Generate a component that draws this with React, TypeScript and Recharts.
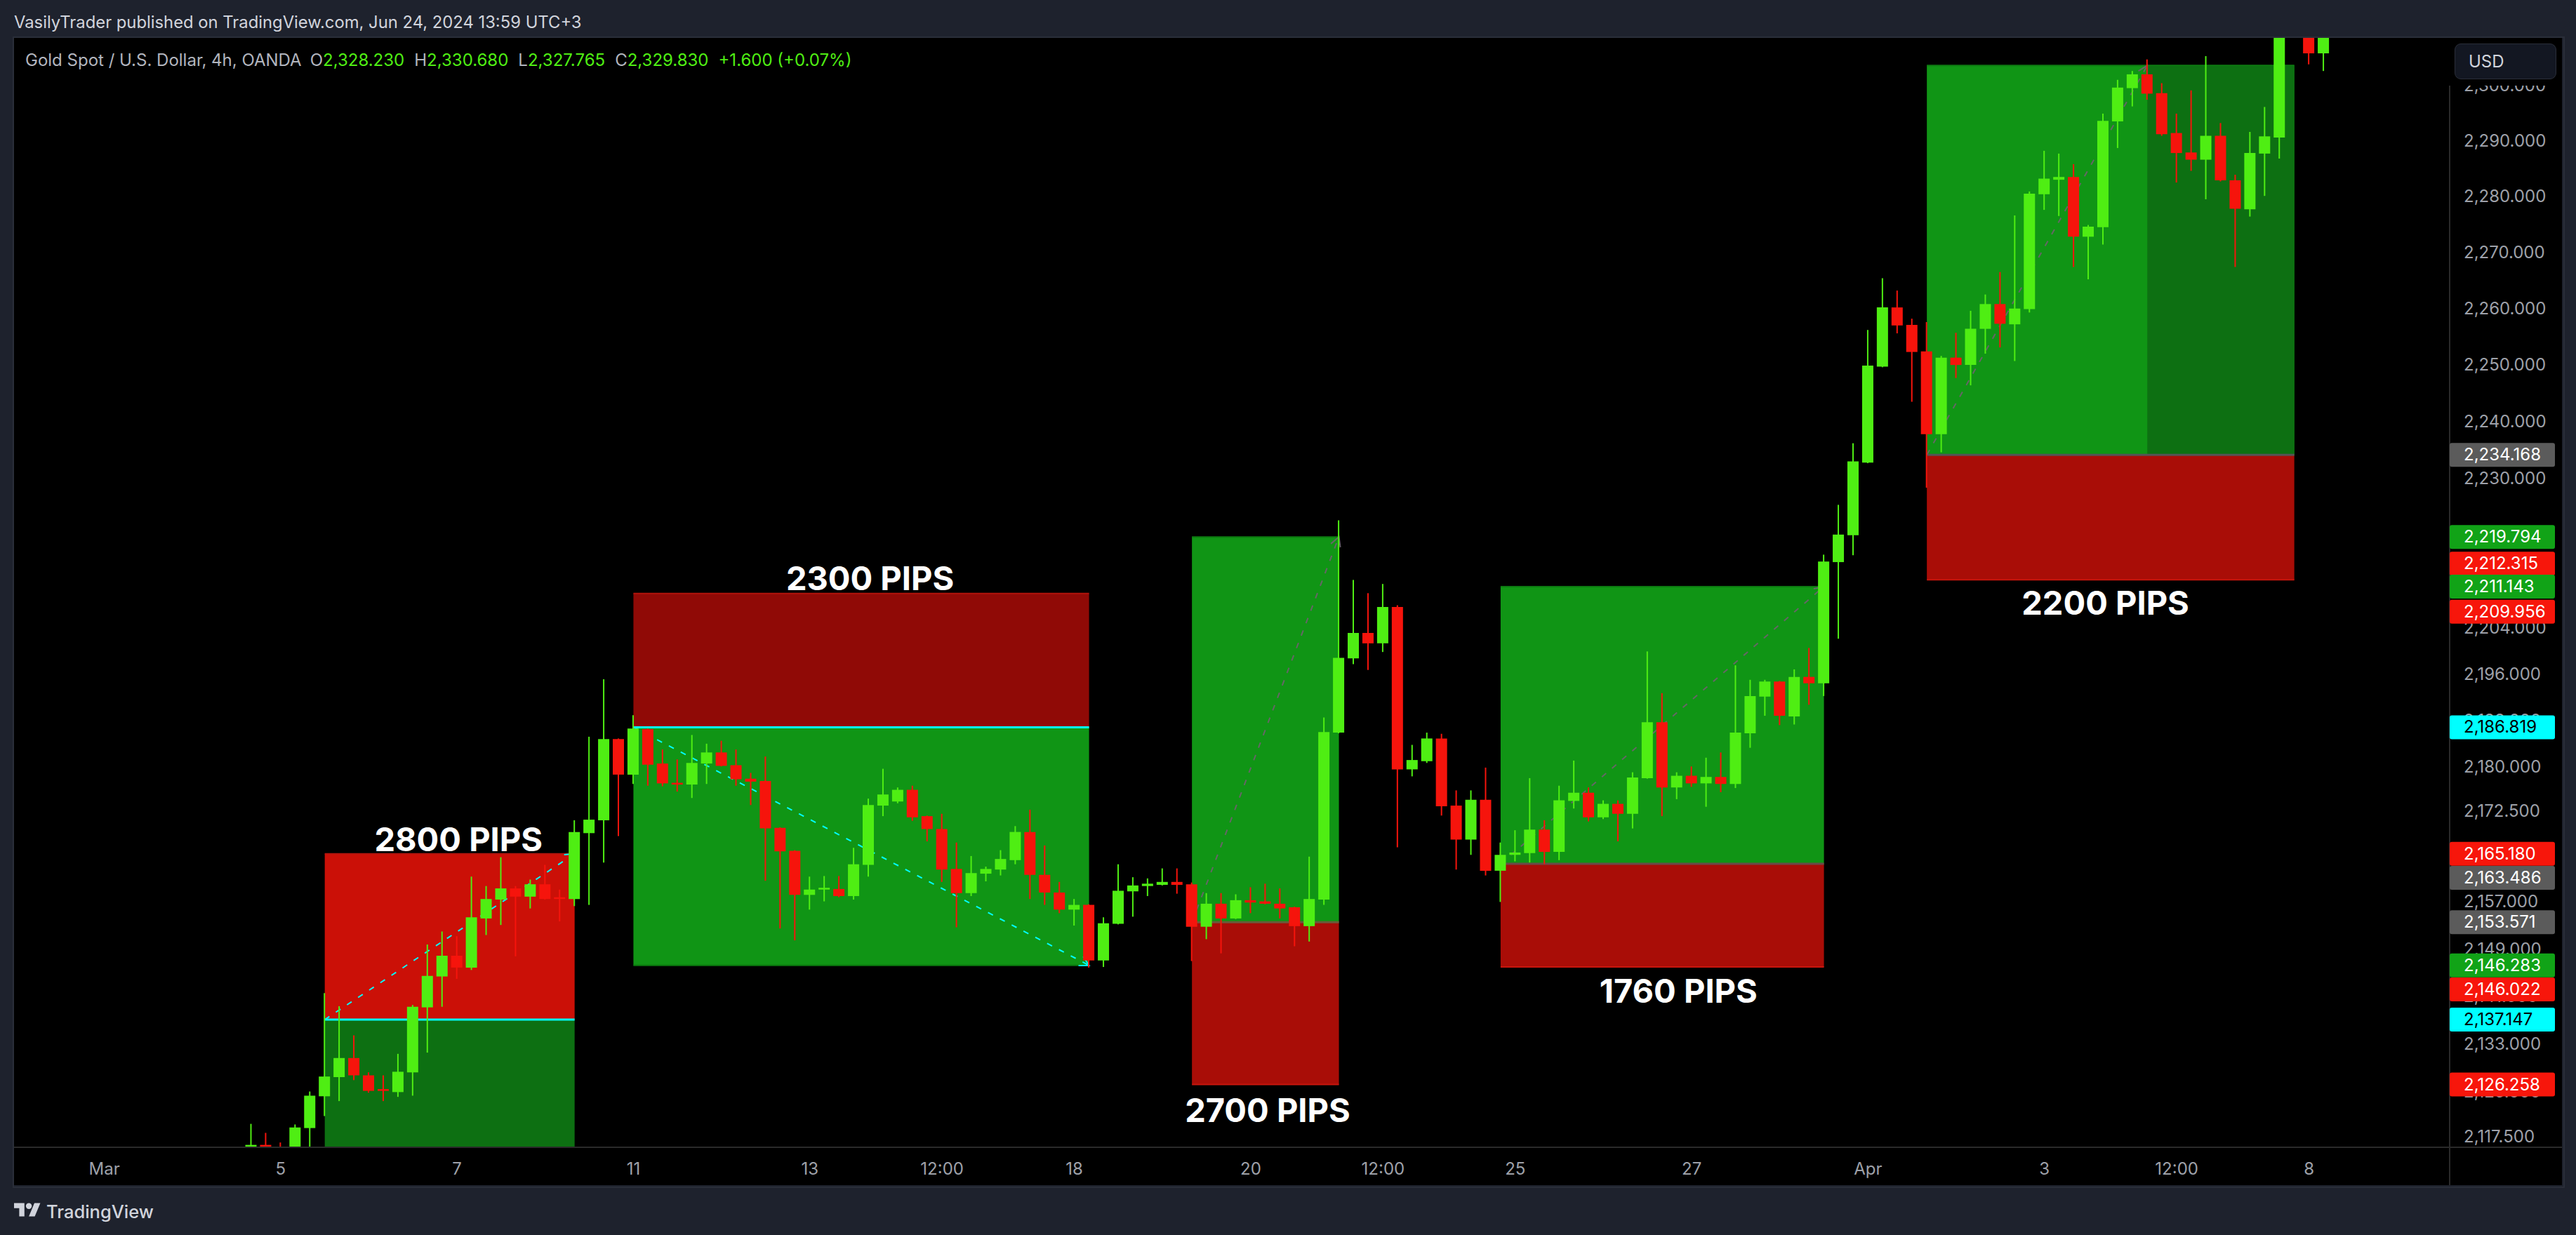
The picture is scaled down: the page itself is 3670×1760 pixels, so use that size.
import {
  Bar,
  Cell,
  ComposedChart,
  ReferenceArea,
  ReferenceDot,
  ReferenceLine,
  XAxis,
  YAxis,
} from "recharts";

const FONT = "Inter, 'Noto Sans', sans-serif";
const UP = "#4fee13";
const DOWN = "#f6140c";

const openPrices = [
  2114, 2116.2, 2115, 2114, 2119, 2124.3, 2127.5, 2130.7, 2127.8, 2125.5,
  2125, 2128.3, 2139.2, 2144.4, 2147.9, 2145.9, 2154.2, 2157.4, 2159.3, 2157.9,
  2160, 2157.8, 2157.5, 2168.7, 2170.9, 2184.8, 2178.7, 2186.5, 2180.6, 2177.3,
  2177, 2180.6, 2182.5, 2180.3, 2178, 2177.6, 2169.6, 2165.7, 2158.2, 2159.1,
  2159.2, 2158, 2163.3, 2173.4, 2174.1, 2176.1, 2171.6, 2169.4, 2162.6, 2158.5,
  2161.8, 2162.5, 2164.1, 2168.9, 2161.6, 2158.6, 2155.7, 2156.5, 2147.1, 2153.3,
  2158.8, 2159.7, 2159.9, 2160.4, 2160, 2152.8, 2156.7, 2154.2, 2157.3, 2157.1,
  2156.7, 2156.1, 2152.9, 2157.4, 2185.9, 2198.7, 2203.1, 2201.3, 2207.6, 2179.6,
  2181, 2184.9, 2173.4, 2167.6, 2174.4, 2162.3, 2165, 2165.3, 2169.3, 2165.5,
  2174.2, 2175.6, 2171.4, 2173.7, 2172, 2178.1, 2187.7, 2176.5, 2178.5, 2177.2,
  2178.3, 2177.1, 2185.8, 2192.1, 2194.7, 2188.7, 2195.5, 2194.4, 2215.4, 2220.1,
  2232.8, 2249.7, 2260.2, 2257.1, 2252.4, 2237.8, 2251.3, 2250, 2256.4, 2260.8,
  2257.2, 2259.9, 2280.4, 2283, 2283.5, 2272.8, 2274.5, 2293.5, 2299.5, 2302,
  2298.6, 2291.4, 2287.9, 2286.6, 2290.9, 2282.9, 2277.7, 2287.7, 2290.6, 2310,
  2315, 2305.8,
];
const highPrices = [
  2119.7, 2118.2, 2116.6, 2119.6, 2125.1, 2141.6, 2139.4, 2134.5, 2128.3, 2127.8,
  2131.4, 2139.6, 2149.8, 2152, 2151.2, 2161.3, 2159.7, 2164.6, 2159.7, 2160.8,
  2163.3, 2159.1, 2170.9, 2185.2, 2195.1, 2184.9, 2188.9, 2186.6, 2183, 2181.3,
  2185.5, 2184, 2184.5, 2183, 2179, 2181.8, 2169.7, 2165.8, 2161.3, 2161.4,
  2161.4, 2166.2, 2174.6, 2179.7, 2176.5, 2176.8, 2171.7, 2172, 2167.1, 2164.8,
  2163, 2165.8, 2169.9, 2172.7, 2166.6, 2160.4, 2157.5, 2156.6, 2154.4, 2163.4,
  2161.2, 2161, 2162.7, 2162.7, 2160.3, 2158.5, 2158.5, 2158.3, 2159.5, 2160.1,
  2159.3, 2156.2, 2164.7, 2188.5, 2222.7, 2212.3, 2210, 2211.6, 2207.9, 2183.8,
  2185.9, 2185.7, 2176, 2176, 2179.9, 2167.1, 2169.2, 2178.1, 2170.9, 2176.8,
  2181.1, 2176.5, 2174.3, 2174.3, 2179.1, 2199.9, 2192.7, 2179.1, 2180.1, 2181.6,
  2182.5, 2197.5, 2195, 2195, 2194.8, 2196.8, 2200.5, 2216.7, 2225.4, 2236.2,
  2256.2, 2265.4, 2263.2, 2258.2, 2257.6, 2251.6, 2255.7, 2259.6, 2262.5, 2266.5,
  2276.6, 2280.9, 2288.2, 2287.7, 2285.8, 2274.9, 2294.9, 2301, 2302.6, 2304.7,
  2300.4, 2294.9, 2299.1, 2305.3, 2293.2, 2283.9, 2291.6, 2296.1, 2314, 2317,
  2316, 2312,
];
const lowPrices = [
  2112, 2113, 2112, 2113, 2113.5, 2121, 2123.5, 2127, 2124.9, 2123.5,
  2124.2, 2124.4, 2131.6, 2139.3, 2144, 2145.5, 2151.4, 2153.1, 2147.8, 2155.9,
  2157.4, 2153.7, 2156.3, 2156.5, 2163.7, 2168.2, 2177.1, 2176.8, 2176.7, 2175.8,
  2174.7, 2177.1, 2180.1, 2176.8, 2173.5, 2160.6, 2152.5, 2150.5, 2155.7, 2157.1,
  2157.8, 2157.4, 2161.3, 2171.6, 2173.8, 2170.8, 2167.3, 2160.4, 2152.7, 2158,
  2160.5, 2161.5, 2163.4, 2157.5, 2156.5, 2155.1, 2153, 2145.9, 2146, 2153.2,
  2154.5, 2158, 2159.8, 2158.4, 2147, 2150.7, 2148.3, 2154.1, 2155.1, 2156.6,
  2154.2, 2149.5, 2150.3, 2156.5, 2185.8, 2197.7, 2196.7, 2199.8, 2166.3, 2178.4,
  2180.7, 2171.7, 2162.5, 2165, 2161.5, 2157, 2163.9, 2163.7, 2163.4, 2164.1,
  2172.9, 2170.7, 2171.1, 2167.3, 2169.5, 2178, 2171.6, 2174.5, 2176.6, 2173.2,
  2175.7, 2176.4, 2183.3, 2188.8, 2187.2, 2187.3, 2190.7, 2192.2, 2202.1, 2216.6,
  2232.7, 2249.6, 2255.6, 2243.5, 2228.4, 2234.6, 2247.7, 2246.4, 2252, 2253.1,
  2250.7, 2259.3, 2277.6, 2276.5, 2267.4, 2265.2, 2271.4, 2288.7, 2296.2, 2297.4,
  2290.9, 2282.5, 2284.6, 2279.5, 2282.7, 2267.4, 2276.4, 2280.1, 2286.8, 2309.5,
  2303.8, 2302.6,
];
const closePrices = [
  2116.2, 2114, 2113, 2119.1, 2124.4, 2127.6, 2130.7, 2127.8, 2125.2, 2125.2,
  2128.4, 2139.3, 2144.5, 2147.9, 2145.9, 2154.4, 2157.5, 2159.3, 2157.9, 2160,
  2157.5, 2157.5, 2168.9, 2171, 2184.8, 2178.7, 2186.6, 2180.4, 2177.2, 2177,
  2180.7, 2182.5, 2180.2, 2177.9, 2177.5, 2169.5, 2165.6, 2158.2, 2159.1, 2159.4,
  2158, 2163.4, 2173.5, 2175.3, 2176.1, 2171.4, 2169.4, 2162.5, 2158.5, 2161.9,
  2162.6, 2164.3, 2168.9, 2161.6, 2158.6, 2155.7, 2156.5, 2147.1, 2153.4, 2158.9,
  2159.8, 2160.1, 2160.4, 2159.9, 2152.8, 2156.7, 2154.2, 2157.3, 2156.9, 2156.7,
  2155.9, 2152.9, 2157.5, 2186, 2198.8, 2203.1, 2201.3, 2207.6, 2179.6, 2181.2,
  2184.9, 2173.3, 2167.6, 2174.4, 2162.3, 2165, 2165.4, 2169.3, 2165.5, 2174.3,
  2175.6, 2171.4, 2173.7, 2172, 2178.2, 2187.7, 2176.5, 2178.5, 2177.2, 2178.3,
  2177.1, 2185.9, 2192.2, 2194.7, 2188.8, 2195.5, 2194.4, 2215.5, 2220.2, 2233,
  2249.9, 2260.2, 2257, 2252.3, 2237.8, 2251.3, 2250, 2256.4, 2260.8, 2257.3,
  2260, 2280.5, 2283.2, 2283.5, 2272.8, 2274.6, 2293.6, 2299.6, 2302, 2298.5,
  2291.2, 2287.8, 2286.6, 2290.9, 2282.9, 2277.8, 2287.8, 2290.8, 2313, 2316,
  2305.8, 2311,
];

// bar index -> time axis label
const timeTicks = [-10, 2, 14, 26, 38, 47, 56, 68, 77, 86, 98, 110, 122, 131, 140];
const timeLabels = ["Mar", "5", "7", "11", "13", "12:00", "18", "20", "12:00", "25", "27", "Apr", "3", "12:00", "8"];

const priceTicks = [
  2300, 2290, 2280, 2270, 2260, 2250, 2240, 2230, 2220, 2212, 2204, 2196, 2188, 2180, 2172.5,
  2165, 2157, 2149, 2141, 2133, 2125, 2117.5,
];

const tagPrices = [2234.168, 2219.794, 2212.315, 2211.143, 2209.956, 2186.819, 2165.18, 2163.486, 2153.571, 2146.283, 2146.022, 2137.147, 2126.258];
const tagKinds = ["gray", "green", "red", "green", "red", "cyan", "red", "gray", "gray", "green", "red", "cyan", "red"];
// the labels push each other apart on the scale
const tagShift = [0, 0, -23, 0, 26, 0, 0, 20, 0, 0, 32, 0, 0];

const positionFrom = [5, 26, 64, 85, 114];
const positionTo = [22, 57, 74, 107, 139];
const positionTop = [2165.18, 2209.956, 2219.794, 2211.143, 2303.6];
const positionEntry = [2137.147, 2186.819, 2153.571, 2163.486, 2234.168];
const positionBottom = [2115.8, 2146.283, 2126.258, 2146.022, 2212.315];
const positionTopFill = ["#cb1007", "#900a06", "#109515", "#109515", "#109515"];
const positionBottomFill = ["#0d7012", "#109515", "#a90d07", "#a90d07", "#a90d07"];
const positionTopEdge = ["#b5150d", "#b0130b", "#0d7a11", "#0d7a11", "#0d7a11"];
const positionBottomEdge = ["#0d7012", "#0a7a0e", "#c8150d", "#c8150d", "#c8150d"];
const positionEntryColor = ["#00ffff", "#00ffff", "#6b5a3a", "#6b4a48", "#555555"];
const pathColor = ["#00ffff", "#00ffff", "#666666", "#666666", "#666666"];
const pathStart = [2137.147, 2186.819, 2153.571, 2163.486, 2234.168];
const pathEnd = [2165.18, 2146.283, 2219.794, 2211.143, 2303.6];
const pathEndBar = [22, 57, 74, 107, 129];

const pipLabels = ["2800 PIPS", "2300 PIPS", "2700 PIPS", "1760 PIPS", "2200 PIPS"];
const pipBars = [14.1, 42.1, 69.15, 97.1, 126.15];
const pipPrices = [2167.6, 2212.6, 2122, 2142, 2208.3];

const legendValues = [
  ["O", "2,328.230"],
  ["H", "2,330.680"],
  ["L", "2,327.765"],
  ["C", "2,329.830"],
];

const rows = openPrices.map((open, i) => ({
  i,
  open,
  close: closePrices[i],
  range: [lowPrices[i], highPrices[i]],
  body: [Math.min(open, closePrices[i]), Math.max(open, closePrices[i])],
}));

const X_DOMAIN = [-16.14, 149.57];
const Y_DOMAIN = [2115.8, 2308.6];

const tagStyle: Record<string, { bg: string; fg: string }> = {
  gray: { bg: "#5b5b5b", fg: "#ffffff" },
  green: { bg: "#11a317", fg: "#ffffff" },
  red: { bg: "#f7160b", fg: "#ffffff" },
  cyan: { bg: "#00ffff", fg: "#000000" },
};

const formatPrice = (v: number) =>
  v.toLocaleString("en-US", { minimumFractionDigits: 3, maximumFractionDigits: 3 });

function PriceTick({ x, y, payload }: any) {
  const tagIndex = tagPrices.indexOf(payload.value);
  if (tagIndex < 0) {
    return (
      <text x={x + 20} y={y} dy={8} fill="#9ea1a9" fontSize={24} fontFamily={FONT}>
        {formatPrice(payload.value)}
      </text>
    );
  }
  const style = tagStyle[tagKinds[tagIndex]];
  const cy = y + tagShift[tagIndex];
  return (
    <g>
      <rect x={x} y={cy - 17} width={150} height={34} rx={3} fill={style.bg} />
      <text x={x + 20} y={cy} dy={8} fill={style.fg} fontSize={24} fontFamily={FONT}>
        {formatPrice(payload.value)}
      </text>
    </g>
  );
}

// dashed path of the position with the small arrow head at its end
function PathLine({ x1, y1, x2, y2, stroke }: any) {
  const angle = Math.atan2(y2 - y1, x2 - x1);
  const arm = 15;
  const a = angle + Math.PI - 0.5;
  const b = angle + Math.PI + 0.5;
  return (
    <g>
      <line x1={x1} y1={y1} x2={x2} y2={y2} stroke={stroke} strokeWidth={2} strokeDasharray="8 11" />
      <path
        d={`M${x2 + arm * Math.cos(a)} ${y2 + arm * Math.sin(a)}L${x2} ${y2}L${x2 + arm * Math.cos(b)} ${y2 + arm * Math.sin(b)}`}
        fill="none"
        stroke={stroke}
        strokeWidth={2}
      />
    </g>
  );
}

function GoldChart() {
  return (
    <ComposedChart width={3630} height={1635} data={rows} margin={{ top: 0, right: 0, bottom: 0, left: 0 }} barGap={0}>
      <XAxis
        xAxisId="time"
        dataKey="i"
        type="number"
        domain={X_DOMAIN}
        allowDataOverflow
        ticks={timeTicks}
        interval={0}
        height={54}
        tickSize={0}
        tickMargin={22}
        tickLine={false}
        axisLine={{ stroke: "#2a2a2a", strokeWidth: 2 }}
        tick={{ fill: "#9ea1a9", fontSize: 24, fontFamily: FONT }}
        tickFormatter={(v: number) => timeLabels[timeTicks.indexOf(v)]}
      />
      <XAxis xAxisId="wick" dataKey="i" type="number" domain={X_DOMAIN} allowDataOverflow hide />
      <YAxis
        orientation="right"
        scale="log"
        type="number"
        domain={Y_DOMAIN}
        allowDataOverflow
        width={160}
        ticks={[...priceTicks, ...tagPrices]}
        interval={0}
        tickSize={0}
        tickMargin={0}
        tickLine={false}
        axisLine={{ stroke: "#2a2a2a", strokeWidth: 2 }}
        tick={<PriceTick />}
      />

      {positionFrom.map((from, k) => (
        <ReferenceArea
          key={`top-${k}`}
          xAxisId="time"
          x1={from}
          x2={positionTo[k]}
          y1={positionEntry[k]}
          y2={positionTop[k]}
          fill={positionTopFill[k]}
          fillOpacity={1}
          stroke="none"
        />
      ))}
      {positionFrom.map((from, k) => (
        <ReferenceArea
          key={`bottom-${k}`}
          xAxisId="time"
          x1={from}
          x2={positionTo[k]}
          y1={positionBottom[k]}
          y2={positionEntry[k]}
          fill={positionBottomFill[k]}
          fillOpacity={1}
          stroke="none"
        />
      ))}
      {/* part of the last position after the target was hit */}
      <ReferenceArea xAxisId="time" x1={129} x2={139} y1={2234.168} y2={2303.6} fill="#0d7012" fillOpacity={1} stroke="none" />

      {positionFrom.map((from, k) => (
        <ReferenceLine
          key={`edge-top-${k}`}
          xAxisId="time"
          segment={[{ x: from, y: positionTop[k] }, { x: positionTo[k], y: positionTop[k] }]}
          stroke={positionTopEdge[k]}
          strokeWidth={2}
          zIndex={150}
        />
      ))}
      {positionFrom.map((from, k) => (
        <ReferenceLine
          key={`edge-bottom-${k}`}
          xAxisId="time"
          segment={[{ x: from, y: positionBottom[k] }, { x: positionTo[k], y: positionBottom[k] }]}
          stroke={positionBottomEdge[k]}
          strokeWidth={2}
          zIndex={150}
        />
      ))}
      {positionFrom.map((from, k) => (
        <ReferenceLine
          key={`entry-${k}`}
          xAxisId="time"
          segment={[{ x: from, y: positionEntry[k] }, { x: positionTo[k], y: positionEntry[k] }]}
          stroke={positionEntryColor[k]}
          strokeWidth={3}
          zIndex={150}
        />
      ))}
      {positionFrom.map((from, k) => (
        <ReferenceLine
          key={`path-${k}`}
          xAxisId="time"
          segment={[{ x: from, y: pathStart[k] }, { x: pathEndBar[k], y: pathEnd[k] }]}
          stroke={pathColor[k]}
          shape={<PathLine stroke={pathColor[k]} />}
          zIndex={150}
        />
      ))}

      <Bar xAxisId="wick" dataKey="range" barSize={2} isAnimationActive={false}>
        {rows.map((r) => (
          <Cell key={r.i} fill={r.close >= r.open ? UP : DOWN} />
        ))}
      </Bar>
      <Bar xAxisId="time" dataKey="body" barSize={16} isAnimationActive={false}>
        {rows.map((r) => (
          <Cell key={r.i} fill={r.close >= r.open ? UP : DOWN} />
        ))}
      </Bar>

      {pipLabels.map((text, k) => (
        <ReferenceDot
          key={text}
          xAxisId="time"
          x={pipBars[k]}
          y={pipPrices[k]}
          r={0}
          fill="none"
          stroke="none"
          label={{ value: text, position: "center", fill: "#ffffff", fontSize: 47, fontWeight: 700, fontFamily: FONT }}
        />
      ))}
    </ComposedChart>
  );
}

export default function App() {
  return (
    <div style={{ position: "absolute", left: 0, top: 0, width: 3670, height: 1760, background: "#1e222d", fontFamily: FONT, overflow: "hidden" }}>
      <div style={{ position: "absolute", left: 20, top: 17, fontSize: 23.8, lineHeight: "30px", color: "#d1d4dc", whiteSpace: "pre" }}>
        VasilyTrader published on TradingView.com, Jun 24, 2024 13:59 UTC+3
      </div>

      <div style={{ position: "absolute", left: 20, top: 54, width: 3630, height: 1635, background: "#000000" }}>
        <GoldChart />
      </div>
      {/* pane frame */}
      <div style={{ position: "absolute", left: 18, top: 52, width: 3632, height: 1637, border: "2px solid #2a2e39", boxSizing: "content-box", pointerEvents: "none" }} />

      <div style={{ position: "absolute", left: 36, top: 71, fontSize: 24, lineHeight: "30px", color: "#b2b5be", whiteSpace: "pre", display: "flex" }}>
        <span style={{ marginRight: 12 }}>Gold Spot / U.S. Dollar, 4h, OANDA</span>
        {legendValues.map(([k, v]) => (
          <span key={k} style={{ marginRight: 14 }}>
            {k}
            <span style={{ color: UP }}>{v}</span>
          </span>
        ))}
        <span style={{ color: UP }}>+1.600 (+0.07%)</span>
      </div>

      {/* scale corner covers the ticks behind the currency button */}
      <div style={{ position: "absolute", left: 3489, top: 54, width: 161, height: 68, background: "#000000" }} />
      <div style={{ position: "absolute", left: 3497, top: 62, width: 145, height: 51, boxSizing: "border-box", background: "#131722", border: "1px solid #2a2e39", borderRadius: 9, color: "#d1d4dc", fontSize: 24, lineHeight: "49px", paddingLeft: 19 }}>
        USD
      </div>

      <div style={{ position: "absolute", left: 3489, top: 1635, width: 2, height: 54, background: "#2a2a2a" }} />
      <div style={{ position: "absolute", left: 3490, top: 1634, width: 160, height: 2, background: "#2a2a2a" }} />

      <svg style={{ position: "absolute", left: 20, top: 1710 }} width={38} height={30} viewBox="0 0 36 28" fill="#d1d4dc">
        <path d="M14 22H7V11H0V4h14v18zM28 22h-8l7.5-18h8L28 22z" />
        <circle cx="20" cy="8" r="4" />
      </svg>
      <div style={{ position: "absolute", left: 66, top: 1711, fontSize: 25.5, lineHeight: "32px", color: "#d1d4dc", fontWeight: 500 }}>TradingView</div>
    </div>
  );
}
